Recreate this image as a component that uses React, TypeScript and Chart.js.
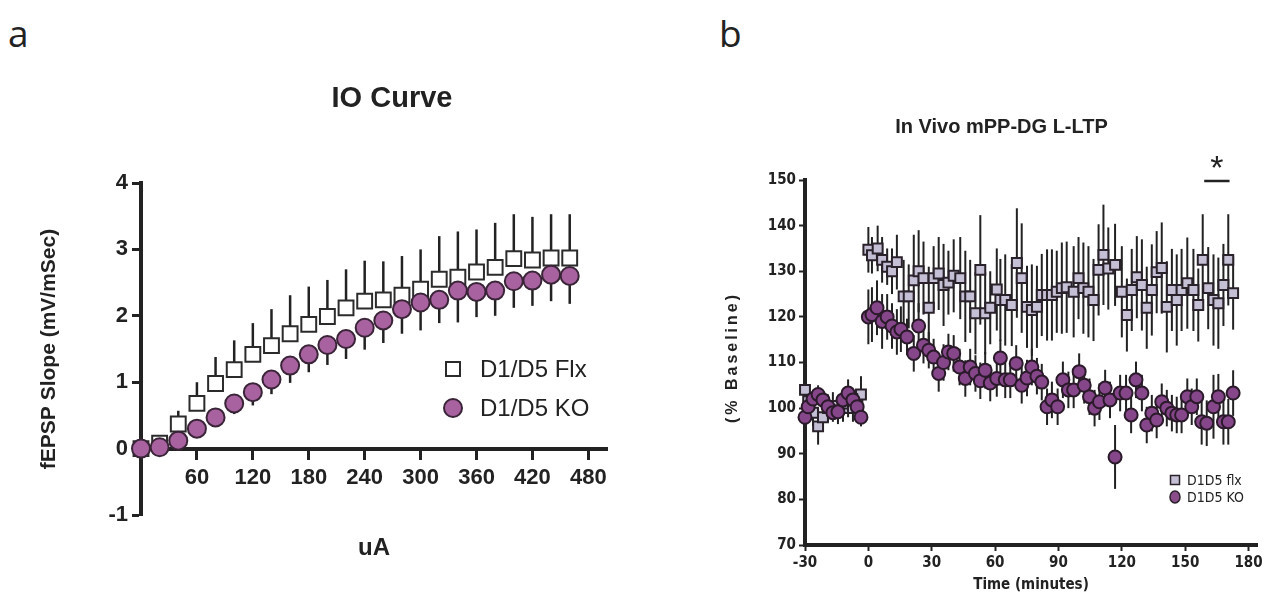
import React, { useEffect, useRef } from 'react';
import { Chart, registerables } from 'chart.js';

Chart.register(...registerables);

const SANS = "'Liberation Sans', Arial, Helvetica, sans-serif";
const NARROW = "'Liberation Sans Narrow', 'Arial Narrow', 'DejaVu Sans Condensed', 'Liberation Sans', Arial, sans-serif";

// ---------------- Panel a : IO curve ----------------
const ioStimulus = [0, 20, 40, 60, 80, 100, 120, 140, 160, 180, 200, 220, 240, 260, 280, 300, 320, 340, 360, 380, 400, 420, 440, 460];
const ioFlx = [0, 0.08, 0.37, 0.68, 0.98, 1.19, 1.42, 1.55, 1.73, 1.87, 1.99, 2.12, 2.22, 2.24, 2.31, 2.4, 2.55, 2.58, 2.66, 2.73, 2.86, 2.84, 2.87, 2.87];
const ioFlxErr = [0, 0.03, 0.2, 0.32, 0.4, 0.44, 0.47, 0.55, 0.58, 0.57, 0.55, 0.58, 0.61, 0.58, 0.59, 0.6, 0.65, 0.69, 0.64, 0.67, 0.67, 0.65, 0.66, 0.66];
const ioKO = [0, 0.02, 0.12, 0.3, 0.47, 0.68, 0.85, 1.04, 1.25, 1.42, 1.56, 1.65, 1.82, 1.93, 2.1, 2.2, 2.24, 2.38, 2.36, 2.38, 2.52, 2.53, 2.62, 2.6];
const ioKOErr = [0, 0.02, 0.06, 0.1, 0.13, 0.16, 0.2, 0.22, 0.26, 0.27, 0.3, 0.3, 0.33, 0.34, 0.37, 0.42, 0.35, 0.48, 0.38, 0.38, 0.4, 0.38, 0.4, 0.42];
const ioXTicks = [60, 120, 180, 240, 300, 360, 420, 480];
const ioYTicks = [-1, 0, 1, 2, 3, 4];
const ioSeriesNames = ['D1/D5 Flx', 'D1/D5 KO'];

// ---------------- Panel b : in vivo L-LTP ----------------
const ltpFlxTime = [-30, -28.5, -26.2, -23.8, -21.5, -19.1, -16.8, -14.4, -12, -9.6, -7.3, -5.2, -3.5,
  0, 1.7, 4.4, 6.5, 8.9, 11.2, 13.5,
  16.7, 19.1, 21.5, 23.8, 26.1, 28.6, 30.9, 33.3, 35.6, 37.9, 40.4, 43.5, 45.9, 48.2, 50.7, 53, 55.3, 57.7, 60.8,
  62.5, 64.8, 67.9, 70.3, 72.6, 75.1, 77.4, 79.8, 82.1, 84.6, 86.9, 89.2, 91.6, 93.9, 97.2, 99.5, 101.8, 104.2, 106.6, 109, 111.3, 113.6,
  116.8, 120, 122.4, 124.7, 127.1, 129.5, 131.8, 134.2, 136.5, 138.9, 141.3, 143.7, 146, 148.3, 151,
  153.9, 156.2, 158.3, 160.9, 163.4, 165.7, 168.1, 170.4, 172.7];
const ltpFlx = [104, 101.5, 99, 96, 98, 100, 100.5, 99.5, 100, 101, 100, 100.5, 103,
  134.7, 133.5, 135, 132.5, 131, 130, 132,
  124.5, 124.5, 128, 130, 128.5, 122, 128.5, 129.5, 127, 127.5, 129, 128.5, 124.5, 124.5, 120.8, 130.3, 120.8, 122, 126,
  123.7, 123.7, 122.6, 131.8, 128.5, 122.2, 121.5, 122.2, 124.8, 124.8, 124.8, 125.5, 126.3, 126.5, 125.5, 128.5, 126.3, 125.5, 123.7, 130.3, 133.6, 130.6,
  131.4, 125.5, 120.4, 125.9, 128.7, 127, 122, 125.9, 129.8, 130.7, 122.2, 125.9, 123.7, 125.9, 127.4,
  125.9, 122.6, 132.5, 126.3, 123.7, 123, 127, 132.5, 125.2];
const ltpFlxErr = [3, 3, 3, 4, 3, 3, 3, 3, 3, 3, 3, 3, 4,
  5, 4, 5, 5, 4, 5, 6,
  8, 7, 10, 9, 8, 9, 7, 8, 9, 7, 8, 9, 10, 8, 9, 12, 9, 8, 9,
  9, 10, 9, 12, 12, 9, 10, 9, 9, 10, 10, 9, 10, 10, 10, 9, 10, 10, 9, 10, 11, 9,
  9, 10, 8, 9, 9, 10, 9, 10, 9, 10, 10, 9, 10, 9, 10,
  9, 8, 10, 9, 10, 10, 9, 10, 8];

const ltpKOTime = [-30, -28.5, -26.2, -23.8, -21.5, -19.1, -16.8, -14.4, -12, -9.6, -7.3, -5.3, -3.5,
  0, 1.7, 4.1, 6.5, 8.9, 11.2, 13.5, 15.4,
  18.3, 21.5, 23.8, 26.1, 28.6, 30.9, 33.3, 35.6, 37.9, 40.4, 43.2, 45.9, 48.2, 50.7, 53, 55.3, 57.7, 60.8,
  62.5, 64.8, 67.2, 70, 72.6, 75.1, 77.4, 79.8, 82.1, 84.6, 86.9, 89.6, 92.1, 94.7, 97.2, 99.8, 102.2, 104.7, 107.1, 109.4, 112.1,
  114.4, 116.8, 119.2, 122, 124.4, 126.7, 129.5, 131.8, 134.2, 136.5, 138.9, 141.3, 143.7, 146, 148.3, 151,
  153.1, 155.5, 157.8, 160.2, 163.4, 165.7, 168.1, 170.4, 172.7];
const ltpKO = [98, 100.3, 102, 103, 101.8, 100.3, 99, 99.2, 101.8, 103.3, 101.8, 100.3, 98,
  120, 120.5, 122, 119, 120, 118, 116.7, 117.3,
  115.6, 112, 118, 113.8, 112.7, 111.2, 107.6, 110, 112.3, 112, 109, 106.5, 109, 107.6, 106, 108.3, 105.5, 106.5,
  111, 106.2, 106.2, 109.8, 105, 106.6, 109, 107, 105.7, 100.3, 101.8, 100.3, 106.2, 104, 104, 108, 105, 102.5, 100, 101.4, 104.4,
  101.8, 89.3, 103.3, 103.3, 98.5, 106.2, 103.3, 96.3, 98.9, 97.4, 101.4, 100, 98.9, 98.5, 98.5, 102.5,
  100.3, 102.5, 97, 96.7, 100.3, 102.5, 97, 97, 103.3];
const ltpKOErr = [2, 2, 2, 2, 2, 2, 2, 2, 2, 3, 2, 3, 2,
  6, 6, 6, 6, 5, 5, 5, 5,
  4, 4, 5, 4, 4, 4, 4, 4, 4, 4, 4, 4, 4, 4, 4, 4, 4, 4,
  4, 4, 4, 4, 4, 4, 4, 4, 4, 4, 4, 4, 4, 4, 4, 4, 4, 4, 4, 4, 4,
  4, 7, 4, 4, 4, 4, 4, 4, 4, 4, 4, 4, 4, 4, 4, 4,
  4, 4, 5, 5, 7, 5, 5, 5, 5];
const ltpXTicks = [-30, 0, 30, 60, 90, 120, 150, 180];
const ltpYTicks = [70, 80, 90, 100, 110, 120, 130, 140, 150];
const ltpSignificantRange = [159, 171];
const ltpSeriesNames = ['D1D5 flx', 'D1D5 KO'];

// ---------------- plugins ----------------
const errorBarPlugin = {
  id: 'errorBars',
  beforeDatasetDraw(chart: any, args: any) {
    const ds = chart.data.datasets[args.index];
    const errs: number[] | undefined = ds.errors;
    if (!errs) return;
    const meta = chart.getDatasetMeta(args.index);
    const y = chart.scales.y;
    const ctx = chart.ctx;
    ctx.save();
    ctx.strokeStyle = ds.errorColor || '#222';
    ctx.lineWidth = ds.errorWidth || 2;
    meta.data.forEach((el: any, i: number) => {
      const v = ds.data[i].y;
      const e = errs[i];
      if (!e) return;
      const lo = ds.errorDir === 'up' ? v : v - e;
      const hi = ds.errorDir === 'down' ? v : v + e;
      ctx.beginPath();
      ctx.moveTo(el.x, y.getPixelForValue(lo));
      ctx.lineTo(el.x, y.getPixelForValue(hi));
      ctx.stroke();
    });
    ctx.restore();
  },
};

const ioExtrasPlugin = {
  id: 'ioExtras',
  afterDraw(chart: any) {
    const ctx = chart.ctx;
    const { left, top } = chart.chartArea;
    ctx.save();
    // chart title
    ctx.fillStyle = '#222';
    ctx.font = `bold 29px ${SANS}`;
    ctx.textAlign = 'center';
    ctx.textBaseline = 'middle';
    ctx.fillText('IO Curve', 392, 99);

    // legend
    const sx = left + 312;
    const rows = [top + 186, top + 225];
    ctx.fillStyle = '#ffffff';
    ctx.strokeStyle = '#2b2b2b';
    ctx.lineWidth = 2;
    ctx.fillRect(sx - 7, rows[0] - 7, 14, 14);
    ctx.strokeRect(sx - 7, rows[0] - 7, 14, 14);
    ctx.beginPath();
    ctx.arc(sx, rows[1], 9, 0, Math.PI * 2);
    ctx.fillStyle = '#a8629f';
    ctx.fill();
    ctx.strokeStyle = '#3a2438';
    ctx.stroke();
    ctx.fillStyle = '#222';
    ctx.font = `24px ${SANS}`;
    ctx.textBaseline = 'middle';
    ctx.textAlign = 'left';
    ctx.fillText(ioSeriesNames[0], sx + 27, rows[0] + 1);
    ctx.fillText(ioSeriesNames[1], sx + 27, rows[1] + 1);
    ctx.restore();
  },
};

const ltpExtrasPlugin = {
  id: 'ltpExtras',
  afterDraw(chart: any) {
    const ctx = chart.ctx;
    const { left, top, bottom } = chart.chartArea;
    const xs = chart.scales.x;
    ctx.save();
    // y axis title with letter spacing
    ctx.translate(9, (top + bottom) / 2 - 5);
    ctx.rotate(-Math.PI / 2);
    (ctx as any).letterSpacing = '3px';
    ctx.font = `bold 16px ${SANS}`;
    ctx.fillStyle = '#222';
    ctx.textAlign = 'center';
    ctx.textBaseline = 'middle';
    ctx.fillText('(% Baseline)', 0, 0);
    ctx.restore();

    // significance bar and star
    ctx.save();
    const x0 = xs.getPixelForValue(ltpSignificantRange[0]);
    const x1 = xs.getPixelForValue(ltpSignificantRange[1]);
    ctx.strokeStyle = '#222';
    ctx.lineWidth = 2.5;
    ctx.beginPath();
    ctx.moveTo(x0, top + 1);
    ctx.lineTo(x1, top + 1);
    ctx.stroke();
    ctx.fillStyle = '#222';
    ctx.font = `34px ${SANS}`;
    ctx.textAlign = 'center';
    ctx.textBaseline = 'alphabetic';
    ctx.fillText('*', (x0 + x1) / 2, top - 1);
    ctx.restore();

    // legend
    ctx.save();
    const lx = left + 370;
    const r0 = 480;
    const r1 = 497;
    ctx.lineWidth = 1.5;
    ctx.fillStyle = '#c5bfd5';
    ctx.strokeStyle = '#2a222a';
    ctx.fillRect(lx - 4.5, r0 - 4.5, 9, 9);
    ctx.strokeRect(lx - 4.5, r0 - 4.5, 9, 9);
    ctx.beginPath();
    ctx.ellipse(lx, r1, 5, 6, 0, 0, Math.PI * 2);
    ctx.fillStyle = '#8a4d89';
    ctx.fill();
    ctx.stroke();
    ctx.fillStyle = '#222';
    ctx.font = `14px ${NARROW}`;
    ctx.textAlign = 'left';
    ctx.textBaseline = 'middle';
    ctx.fillText(ltpSeriesNames[0], lx + 12, r0 + 1);
    ctx.fillText(ltpSeriesNames[1], lx + 12, r1 + 1);
    ctx.restore();
  },
};

// ---------------- charts ----------------
function IOChart() {
  const ref = useRef<HTMLCanvasElement>(null);
  useEffect(() => {
    const chart = new Chart(ref.current as HTMLCanvasElement, {
      type: 'scatter',
      data: {
        datasets: [
          {
            label: ioSeriesNames[0],
            data: ioStimulus.map((x, i) => ({ x, y: ioFlx[i] })),
            errors: ioFlxErr,
            errorDir: 'up',
            errorWidth: 2.5,
            errorColor: '#222',
            pointStyle: 'rect',
            pointRadius: 10.5,
            backgroundColor: '#ffffff',
            borderColor: '#2b2b2b',
            borderWidth: 2,
            clip: false,
            order: 2,
          } as any,
          {
            label: ioSeriesNames[1],
            data: ioStimulus.map((x, i) => ({ x, y: ioKO[i] })),
            errors: ioKOErr,
            errorDir: 'down',
            errorWidth: 2.5,
            errorColor: '#222',
            pointStyle: 'circle',
            pointRadius: 9,
            backgroundColor: '#a8629f',
            borderColor: '#3a2438',
            borderWidth: 2,
            clip: false,
            order: 1,
          } as any,
        ],
      },
      options: {
        responsive: false,
        animation: false,
        events: [],
        layout: { padding: { left: 0, right: 183, top: 183, bottom: 125 } },
        plugins: {
          legend: { display: false },
          tooltip: { enabled: false },
          title: { display: false },
        },
        scales: {
          x: {
            type: 'linear',
            min: 0,
            max: 500,
            position: { y: 0 } as any,
            afterBuildTicks: (s: any) => { s.ticks = ioXTicks.map((v) => ({ value: v })); },
            afterFit: (s: any) => { s.height = 125; },
            ticks: { color: '#222', font: { family: SANS, size: 22, weight: 'bold' }, padding: 7, maxRotation: 0, autoSkip: false },
            grid: { drawOnChartArea: false, drawTicks: true, tickLength: 9, tickWidth: 3, tickColor: '#222' },
            border: { display: true, width: 4, color: '#222' },
            title: { display: true, text: 'uA', color: '#222', font: { family: SANS, size: 24, weight: 'bold' }, padding: { top: 0, bottom: 11 } },
          },
          y: {
            type: 'linear',
            min: -1,
            max: 4,
            afterBuildTicks: (s: any) => { s.ticks = ioYTicks.map((v) => ({ value: v })); },
            afterFit: (s: any) => { s.width = 141; },
            ticks: { color: '#222', font: { family: SANS, size: 22, weight: 'bold' }, padding: 4 },
            grid: { drawOnChartArea: false, drawTicks: true, tickLength: 9, tickWidth: 3, tickColor: '#222' },
            border: { display: true, width: 4, color: '#222' },
            title: { display: true, text: 'fEPSP Slope (mV/mSec)', color: '#222', font: { family: SANS, size: 21, weight: 'bold' }, padding: { top: 37, bottom: 0 } },
          },
        },
      } as any,
      plugins: [errorBarPlugin, ioExtrasPlugin],
    });
    return () => chart.destroy();
  }, []);
  return <canvas ref={ref} width={790} height={640} style={{ display: 'block' }} />;
}

function LTPChart() {
  const ref = useRef<HTMLCanvasElement>(null);
  useEffect(() => {
    const chart = new Chart(ref.current as HTMLCanvasElement, {
      type: 'scatter',
      data: {
        datasets: [
          {
            label: ltpSeriesNames[0],
            data: ltpFlxTime.map((x, i) => ({ x, y: ltpFlx[i] })),
            errors: ltpFlxErr,
            errorDir: 'both',
            errorWidth: 2,
            errorColor: '#222',
            pointStyle: 'rect',
            pointRadius: 7,
            backgroundColor: '#c5bfd5',
            borderColor: '#2a222a',
            borderWidth: 2,
            clip: false,
            order: 2,
          } as any,
          {
            label: ltpSeriesNames[1],
            data: ltpKOTime.map((x, i) => ({ x, y: ltpKO[i] })),
            errors: ltpKOErr,
            errorDir: 'both',
            errorWidth: 2,
            errorColor: '#222',
            pointStyle: 'circle',
            pointRadius: 6.5,
            backgroundColor: '#86468a',
            borderColor: '#2a1a2a',
            borderWidth: 2,
            clip: false,
            order: 1,
          } as any,
        ],
      },
      options: {
        responsive: false,
        animation: false,
        events: [],
        layout: { padding: { left: 22, right: 18, top: 0, bottom: 0 } },
        plugins: {
          legend: { display: false },
          tooltip: { enabled: false },
          title: {
            display: true,
            text: 'In Vivo mPP-DG L-LTP',
            color: '#222',
            font: { family: SANS, size: 20, weight: 'bold' },
            padding: { top: 115, bottom: 41 },
          },
        },
        scales: {
          x: {
            type: 'linear',
            min: -30,
            max: 184,
            position: 'bottom',
            afterBuildTicks: (s: any) => { s.ticks = ltpXTicks.map((v) => ({ value: v })); },
            afterFit: (s: any) => { s.height = 58; },
            ticks: { color: '#222', font: { family: NARROW, size: 15, weight: 'bold' }, padding: 3, maxRotation: 0, autoSkip: false },
            grid: { drawOnChartArea: false, drawTicks: true, tickLength: 6, tickWidth: 2, tickColor: '#222' },
            border: { display: true, width: 4, color: '#222' },
            title: { display: true, text: 'Time (minutes)', color: '#222', font: { family: NARROW, size: 15, weight: 'bold' }, padding: { top: 0, bottom: 9 } },
          },
          y: {
            type: 'linear',
            min: 70,
            max: 150,
            afterBuildTicks: (s: any) => { s.ticks = ltpYTicks.map((v) => ({ value: v })); },
            afterFit: (s: any) => { s.width = 59; },
            ticks: { color: '#222', font: { family: NARROW, size: 15, weight: 'bold' }, padding: 3 },
            grid: { drawOnChartArea: false, drawTicks: true, tickLength: 6, tickWidth: 2, tickColor: '#222' },
            border: { display: true, width: 4, color: '#222' },
            title: { display: false },
          },
        },
      } as any,
      plugins: [errorBarPlugin, ltpExtrasPlugin],
    });
    return () => chart.destroy();
  }, []);
  return <canvas ref={ref} width={551} height={603} style={{ display: 'block' }} />;
}

export default function App() {
  const letterStyle: React.CSSProperties = {
    position: 'absolute',
    top: 14,
    fontFamily: "'Open Sans', 'Liberation Sans', Arial, sans-serif",
    fontSize: 37,
    lineHeight: '37px',
    color: '#222',
  };
  return (
    <div style={{ position: 'absolute', left: 0, top: 0, width: 1275, height: 603, overflow: 'hidden', background: '#ffffff' }}>
      <div style={{ ...letterStyle, left: 8 }}>a</div>
      <div style={{ ...letterStyle, left: 719 }}>b</div>
      <div style={{ position: 'absolute', left: 0, top: 0 }}>
        <IOChart />
      </div>
      <div style={{ position: 'absolute', left: 724, top: 0 }}>
        <LTPChart />
      </div>
    </div>
  );
}
